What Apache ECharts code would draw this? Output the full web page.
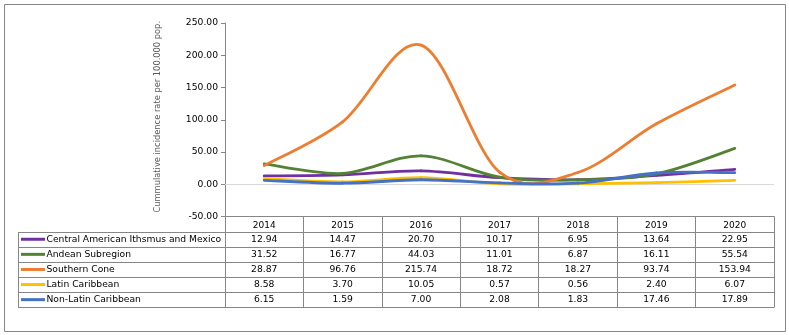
<!DOCTYPE html>
<html><head><meta charset="utf-8">
<script src="https://cdn.jsdelivr.net/npm/echarts@6/dist/echarts.min.js"></script>
<style>html,body{margin:0;padding:0;background:#fff}#c{width:789px;height:335px}</style>
</head><body><div id="c"></div>
<script>
const years = ['2014', '2015', '2016', '2017', '2018', '2019', '2020'];
const seriesNames = ['Central American Ithsmus and Mexico', 'Andean Subregion', 'Southern Cone', 'Latin Caribbean', 'Non-Latin Caribbean'];
const centralAmerica = [12.94, 14.47, 20.70, 10.17, 6.95, 13.64, 22.95];
const andean = [31.52, 16.77, 44.03, 11.01, 6.87, 16.11, 55.54];
const southernCone = [28.87, 96.76, 215.74, 18.72, 18.27, 93.74, 153.94];
const latinCaribbean = [8.58, 3.70, 10.05, 0.57, 0.56, 2.40, 6.07];
const nonLatinCaribbean = [6.15, 1.59, 7.00, 2.08, 1.83, 17.46, 17.89];
const yMin = -50, yMax = 250, yStep = 50;
const yTitle = 'Cummulative incidence rate per 100.000 pop.';

const seriesData = [centralAmerica, andean, southernCone, latinCaribbean, nonLatinCaribbean];
const colors = ['#7030A0', '#548235', '#ED7D31', '#FFC000', '#4472C4'];
const FONT = 'DejaVu Sans';
const GRAY = '#868686';

const gridL = 225, gridR = 774, gridT = 23, gridB = 216.5;
const chart = echarts.init(document.getElementById('c'), null, {renderer: 'canvas'});

// Excel-like smoothed line (Catmull-Rom style Bezier through the data points)
function makeRender(color) {
  return function (params, api) {
    const i = params.dataIndexInside, n = params.dataInsideLength;
    if (i >= n - 1) return null;
    const P = k => {
      const kk = Math.max(0, Math.min(n - 1, k));
      return api.coord([api.value(0, kk), api.value(1, kk)]);
    };
    const p0 = P(i - 1), p1 = P(i), p2 = P(i + 1), p3 = P(i + 2);
    const t = 6;
    return {
      type: 'bezierCurve',
      shape: {
        x1: p1[0], y1: p1[1], x2: p2[0], y2: p2[1],
        cpx1: p1[0] + (p2[0] - p0[0]) / t, cpy1: p1[1] + (p2[1] - p0[1]) / t,
        cpx2: p2[0] - (p3[0] - p1[0]) / t, cpy2: p2[1] - (p3[1] - p1[1]) / t
      },
      style: {stroke: color, lineWidth: 2.8, fill: null, lineCap: 'round'},
      silent: true
    };
  };
}

const series = seriesData.map((d, i) => ({
  name: seriesNames[i], type: 'custom', data: d.map((v, k) => [k, v]),
  encode: {x: 0, y: 1}, renderItem: makeRender(colors[i]), z: 3 + i, clip: false
}));
series.push({
  name: 'zero', type: 'line', data: centralAmerica, showSymbol: false, silent: true,
  lineStyle: {opacity: 0}, z: 1,
  markLine: {silent: true, symbol: 'none', label: {show: false}, animation: false,
    lineStyle: {color: '#D9D9D9', width: 1, type: 'solid'}, data: [{yAxis: 0}]}
});

chart.setOption({
  animation: false,
  backgroundColor: '#fff',
  grid: {left: gridL, right: 789 - gridR, top: gridT, bottom: 335 - gridB, containLabel: false},
  xAxis: {
    type: 'category', data: years, boundaryGap: true,
    axisLine: {onZero: false, lineStyle: {color: GRAY, width: 1}},
    axisTick: {show: true, length: 91, lineStyle: {color: GRAY}},
    axisLabel: {color: '#000', fontFamily: FONT, fontSize: 9, margin: 3, lineHeight: 12}
  },
  yAxis: {
    type: 'value', min: yMin, max: yMax, interval: yStep,
    name: yTitle, nameLocation: 'middle', nameGap: 63, nameRotate: 90,
    nameTextStyle: {color: '#595959', fontFamily: FONT, fontSize: 8.3, padding: [0, 0, 0, 6]},
    axisLine: {show: true, lineStyle: {color: GRAY}},
    axisTick: {show: true, length: 4, lineStyle: {color: GRAY}},
    splitLine: {show: false},
    axisLabel: {color: '#000', fontFamily: FONT, fontSize: 9.2, margin: 7, formatter: v => v.toFixed(2)}
  },
  series: series
});

// Data table drawn from the arrays
const rowTop = 231.7, rowH = 15.1, tableL = 18;
const centers = years.map((y, i) => chart.convertToPixel({xAxisIndex: 0}, i));
const colW = (gridR - gridL) / years.length;
const tableR = gridL + colW * years.length;
const tableBottom = rowTop + rowH * seriesNames.length;
const g = [];
g.push({type: 'rect', shape: {x: 4.5, y: 4.5, width: 781, height: 327}, style: {fill: 'none', stroke: GRAY, lineWidth: 1}, silent: true});
for (let r = 0; r <= seriesNames.length; r++) {
  const y = Math.round(rowTop + r * rowH) + 0.5;
  g.push({type: 'line', shape: {x1: tableL, y1: y, x2: tableR, y2: y}, style: {stroke: GRAY, lineWidth: 1}, silent: true});
}
g.push({type: 'line', shape: {x1: tableL + 0.5, y1: Math.round(rowTop) + 0.5, x2: tableL + 0.5, y2: Math.round(tableBottom) + 0.5}, style: {stroke: GRAY, lineWidth: 1}, silent: true});
seriesNames.forEach((name, r) => {
  const cy = rowTop + r * rowH + rowH / 2;
  g.push({type: 'line', shape: {x1: 21, y1: cy, x2: 45, y2: cy}, style: {stroke: colors[r], lineWidth: 3}, silent: true});
  g.push({type: 'text', x: 46.5, y: cy, style: {text: name, fill: '#000', font: '9.2px "' + FONT + '"', verticalAlign: 'middle', align: 'left'}, silent: true});
  seriesData[r].forEach((v, c) => {
    g.push({type: 'text', x: centers[c], y: cy, style: {text: v.toFixed(2), fill: '#000', font: '9.2px "' + FONT + '"', verticalAlign: 'middle', align: 'center'}, silent: true});
  });
});
chart.setOption({graphic: g});
</script></body></html>
